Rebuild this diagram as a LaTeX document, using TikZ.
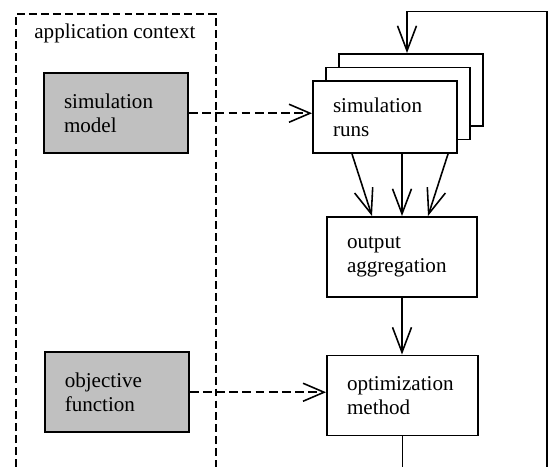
\documentclass[tikz,border=0pt]{standalone}
\usepackage{fontspec}
\setmainfont{Liberation Serif}
\usetikzlibrary{arrows.meta}
\definecolor{Shade}{HTML}{C0C0C0}

\tikzset{
  blk/.style={draw,line width=1.1pt,fill=white,align=left,
    text width=2.08cm,inner xsep=0.4cm,minimum height=1.6cm},
  ctxblk/.style={blk,fill=Shade},
  flow/.style={-{Straight Barb[length=0.5cm,width=0.38cm]},line width=0.9pt},
  feed/.style={-{Straight Barb[length=0.42cm,width=0.36cm]},line width=0.9pt,
    dash pattern=on 5pt off 2.5pt},
}

\begin{document}
\begin{tikzpicture}[font=\fontsize{12}{13.8}\selectfont]
    \useasboundingbox (0,0) rectangle (10.98,9.32);
    \clip (0,0) rectangle (10.98,9.32);
    \def\sx{0.26}\def\sy{0.27}
    % context frame, runs on past the bottom edge
    \draw[line width=1.1pt,dash pattern=on 4.5pt off 2.3pt]
      (0.32,-0.5) rectangle (4.32,9.04);
    \node[anchor=west,inner sep=0pt] (ctx) at (0.68,8.66) {application context};

    \node[ctxblk] (model) at (2.32,7.055) {simulation\\model};
    \node[ctxblk] (obj) at (2.335,1.475) {objective\\function};

    % copies stacked behind the runs box
    \foreach \k in {2,1}
      \node[blk,minimum height=1.44cm] (runs\k) at (7.70+\k*\sx,6.98+\k*\sy) {};
    \node[blk,minimum height=1.44cm] (runs) at (7.70,6.98) {simulation\\runs};
    \node[blk,text width=2.2cm] (agg) at (8.04,4.18) {output\\aggregation};
    \node[blk,text width=2.22cm] (opt) at (8.05,1.41) {optimization\\method};

    \draw[feed] (model.east) -- (model.east -| runs.west);
    \draw[feed] (obj.east) -- (obj.east -| opt.west);

    \draw[flow] ([xshift=-0.66cm]runs.south) -- ([xshift=-0.6cm]agg.north);
    \draw[flow] ([xshift=0.34cm]runs.south) -- (agg.north);
    \draw[flow] ([xshift=1.26cm]runs.south) -- ([xshift=0.52cm]agg.north);
    \draw[flow] (agg.south) -- (agg.south |- opt.north);

    % loop back from the optimizer, closed below the frame
    \coordinate (turn) at (10.94,9.09);
    \draw[flow] (opt.south) -- ++(0,-1.5) -| (turn)
      -| ([xshift=-0.08cm]runs2.north);
  \end{tikzpicture}
\end{document}
